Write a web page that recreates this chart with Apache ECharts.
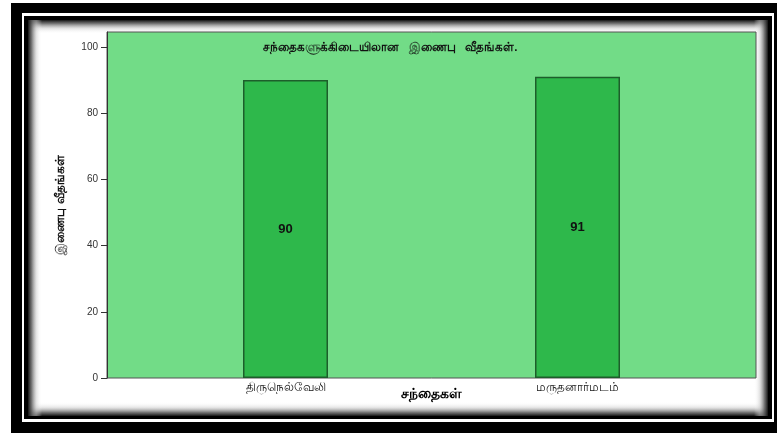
<!DOCTYPE html>
<html>
<head>
<meta charset="utf-8">
<script src="https://cdn.jsdelivr.net/npm/echarts@6/dist/echarts.min.js"></script>
<style>
  html, body { margin: 0; padding: 0; background: #ffffff; }
  #chart { width: 777px; height: 433px; }
</style>
</head>
<body>
<div id="chart"></div>
<script>
// Market names and their linkage rates
const categories = ['திருநெல்வேலி', 'மருதனார்மடம்'];
const rates = [90, 91];
const yTicks = [0, 20, 40, 60, 80, 100];
const titleText = 'சந்தைகளுக்கிடையிலான   இணைபு   வீதங்கள்.';
const xAxisName = 'சந்தைகள்';
const yAxisName = 'இணைபு வீதங்கள்';

const chart = echarts.init(document.getElementById('chart'), null, { renderer: 'canvas' });

const FONT = 'Liberation Sans, Arial, sans-serif';
const PLOT_BG = '#72dc87';
const BAR_FILL = '#2eb84b';
const BAR_EDGE = '#1d5e2b';

// Inner shading strips along the panel edges
function edgeStrip(x, y, w, h, dir) {
  const g = {
    top:    [0, 0, 0, 1],
    bottom: [0, 1, 0, 0],
    left:   [0, 0, 1, 0],
    right:  [1, 0, 0, 0]
  }[dir];
  return {
    type: 'rect', silent: true, z: -90,
    shape: { x, y, width: w, height: h },
    style: {
      fill: new echarts.graphic.LinearGradient(g[0], g[1], g[2], g[3], [
        { offset: 0, color: 'rgba(20,20,20,1)' },
        { offset: 0.25, color: 'rgba(90,90,90,0.85)' },
        { offset: 0.6, color: 'rgba(200,200,200,0.5)' },
        { offset: 1, color: 'rgba(255,255,255,0)' }
      ])
    }
  };
}

const option = {
  animation: false,
  backgroundColor: '#ffffff',
  graphic: [
    { type: 'rect', silent: true, z: -100, shape: { x: 11, y: 3, width: 766, height: 430 }, style: { fill: '#000' } },
    { type: 'rect', silent: true, z: -99, shape: { x: 22, y: 13, width: 752, height: 409 }, style: { fill: '#fff' } },
    { type: 'rect', silent: true, z: -98, shape: { x: 24, y: 16, width: 748, height: 403 }, style: { fill: '#000' } },
    { type: 'rect', silent: true, z: -97, shape: { x: 28, y: 20, width: 740, height: 396 }, style: { fill: '#fff' } },
    edgeStrip(28, 20, 740, 14, 'top'),
    edgeStrip(28, 402, 740, 14, 'bottom'),
    edgeStrip(28, 20, 14, 396, 'left'),
    edgeStrip(754, 20, 14, 396, 'right'),
    {
      type: 'text', z: 50,
      left: 263, top: 42,
      style: { text: titleText, font: 'bold 11.5px ' + FONT, fill: '#111' }
    }
  ],
  grid: [
    { left: 107, top: 32, width: 649, height: 346, show: true, backgroundColor: PLOT_BG, borderColor: '#555', borderWidth: 1 },
    { left: 139.5, top: 32, width: 584, height: 346 }
  ],
  xAxis: [
    { type: 'category', gridIndex: 0, data: [''], show: false },
    {
      type: 'category', gridIndex: 1, data: categories,
      axisLine: { show: false }, axisTick: { show: false },
      axisLabel: { color: '#111', fontSize: 12, fontFamily: FONT, margin: 4 },
      name: xAxisName, nameLocation: 'middle', nameGap: 9, nameMoveOverlap: false,
      nameTextStyle: { fontSize: 14, fontWeight: 'bold', color: '#000', fontFamily: FONT, verticalAlign: 'top' }
    }
  ],
  yAxis: [
    {
      type: 'value', gridIndex: 0, min: 0, max: 104.5, interval: 20,
      splitLine: { show: false },
      axisLine: { show: true, lineStyle: { color: '#333', width: 1 } },
      axisTick: { show: true, length: 6, customValues: yTicks, lineStyle: { color: '#333' } },
      axisLabel: { customValues: yTicks, color: '#333', fontSize: 10, fontFamily: FONT, margin: 9 },
      name: yAxisName, nameLocation: 'middle', nameGap: 40, nameRotate: 90,
      nameTextStyle: { fontSize: 12, fontWeight: 'bold', color: '#111', fontFamily: FONT }
    },
    { type: 'value', gridIndex: 1, min: 0, max: 104.5, show: false }
  ],
  series: [
    {
      type: 'bar', xAxisIndex: 1, yAxisIndex: 1,
      data: rates, barWidth: 85,
      itemStyle: { color: BAR_FILL, borderColor: BAR_EDGE, borderWidth: 1.5 },
      label: {
        show: true, position: 'inside',
        fontSize: 13, fontWeight: 'bold', color: '#111', fontFamily: FONT
      }
    }
  ]
};

chart.setOption(option);
</script>
</body>
</html>
